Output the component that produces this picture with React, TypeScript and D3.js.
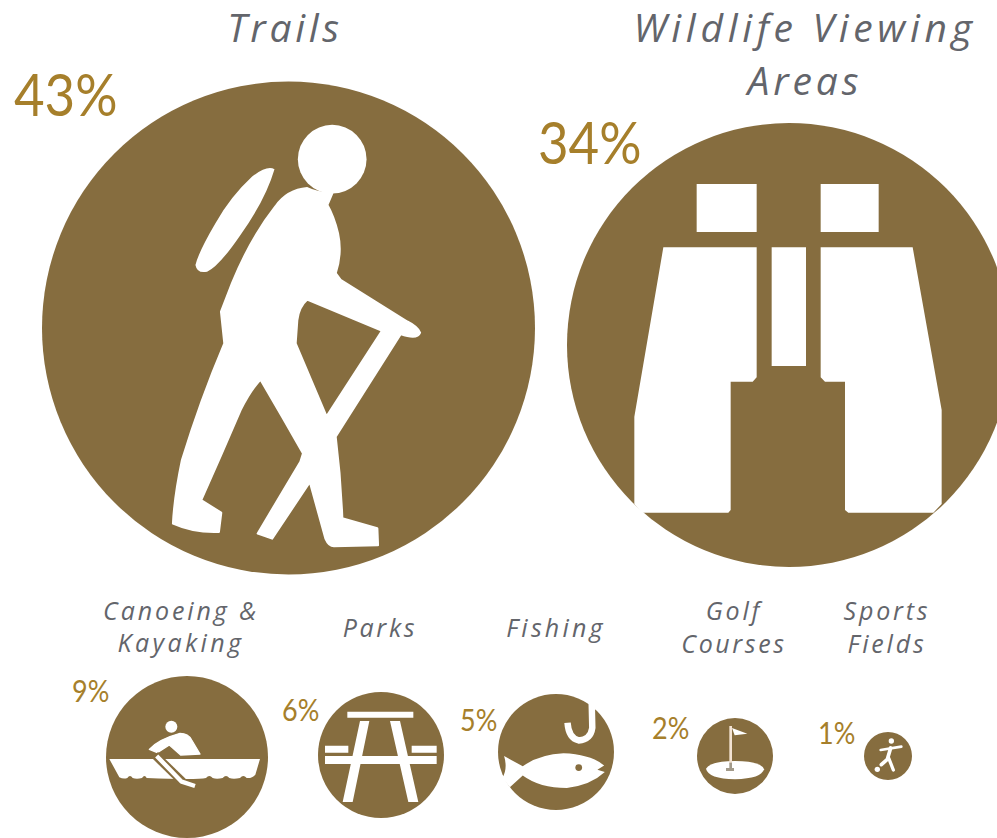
import React from "react";
import * as d3 from "d3";

// ---- data
const activities = ["Trails", "Wildlife Viewing Areas", "Canoeing & Kayaking", "Parks", "Fishing", "Golf Courses", "Sports Fields"];
const shares = [43, 34, 9, 6, 5, 2, 1];
const labelLines = [["Trails"], ["Wildlife Viewing", "Areas"], ["Canoeing &", "Kayaking"], ["Parks"], ["Fishing"], ["Golf", "Courses"], ["Sports", "Fields"]];

// ---- layout
const WIDTH = 997;
const HEIGHT = 838;
const BUBBLE = "#866D3F";
const GOLD = "#A67F2B";
const GREY = "#63656B";
const radiusDomain = [1, 2, 5, 6, 9, 34, 43];
const radiusRange = [24, 38, 58, 63, 81, 222, 246.5];
const radius = d3.scaleLinear().domain(radiusDomain).range(radiusRange);
const centreX = [288.5, 789, 187, 381, 556, 735, 888];
const centreY = [328, 345, 757, 755, 752, 756, 756];
const labelX = [285, 805, 181, 380, 556, 734, 887];
const labelBase = [[42], [42, 95], [620, 652], [637], [637], [620, 653], [620, 653]];
const labelSize = [39, 39, 25, 25, 25, 25, 25];
const labelSpacing = [[3.7], [4.7, 3.9], [2.9, 3.4], [2.7], [3.2], [2.8, 2.6], [2.8, 2.8]];
const pctLeft = [14, 538, 72, 282, 460, 652, 818];
const pctBase = [116, 164, 702, 721, 731, 739, 744];
const pctSize = [58, 58, 30, 30, 30, 30, 30];
const pctStretch = [0.91, 0.91, 0.9, 0.9, 0.9, 0.9, 0.9];

// ---- pictograms, each drawn in its own design space
type Glyph = { cx: number; cy: number; r: number; body: React.ReactNode };

const hiker: Glyph = {
  cx: 414, cy: 654, r: 739,
  body: (
    <g fill="#fff">
      <circle cx={545} cy={148} r={103} />
      <path d="M372 178 Q350 165 305 200 Q240 260 195 340 Q145 425 135 465 Q140 492 170 485 Q205 470 270 375 Q345 270 372 178Z" />
      <path stroke="#fff" strokeWidth={7} strokeLinejoin="round" fillRule="evenodd" d="M470 235 Q410 240 375 290 Q300 385 245 520 L212 605 L222 700 Q150 870 95 1050 Q72 1160 68 1240 Q130 1268 205 1265 L212 1208 L152 1170 Q210 1040 270 900 Q300 840 330 808 L395 920 L458 1030 L450 1055 L322 1270 L365 1285 L478 1115 L525 1285 Q535 1308 550 1308 L682 1305 L680 1255 L575 1225 Q570 1100 555 980 L750 672 Q800 690 808 668 Q800 650 770 635 L570 510 L555 490 Q575 430 562 370 Q550 320 530 285 L545 250 Q500 250 470 235Z M470 568 Q445 590 440 630 L435 700 L528 920 L695 662Z" />
    </g>
  ),
};

const binoculars: Glyph = {
  cx: 567, cy: 525, r: 666,
  body: (
    <g fill="#fff">
      <path d="M290 42H470V186H290Z M662 42H836V186H662Z M515 232H618V588H515Z" />
      <path d="M190 232H470V622L458 635H392V1020L385 1028H125L103 1002V740Z" />
      <path d="M662 232H938L1025 720V1002L1000 1028H745L735 1020V635H675L662 622Z" />
    </g>
  ),
};

const rower: Glyph = {
  cx: 261, cy: 171, r: 243,
  body: (
    <g>
      <path fill="#fff" d="M28 177H480L466 224 Q455 236 440 234 Q430 222 420 234 Q400 238 388 234 Q378 222 368 234 Q350 238 338 234 Q328 222 318 234 Q290 240 140 234 Q134 222 126 234 Q110 238 98 234 Q90 222 82 234 Q70 238 58 232Z" />
      <circle cx={214} cy={80} r={18} fill="#fff" />
      <path fill="#fff" stroke="#fff" strokeWidth={4} strokeLinejoin="round" d="M148 148 Q175 118 240 100 Q265 100 275 120 L300 162 L242 165 L208 135 L172 158Z" />
      <path d="M165 165 L250 248" stroke={BUBBLE} strokeWidth={26} fill="none" />
      <path d="M170 168 L245 245 L285 258" stroke="#fff" strokeWidth={13} fill="none" strokeLinejoin="round" />
    </g>
  ),
};

const table: Glyph = {
  cx: 1143, cy: 495, r: 189,
  body: (
    <path fill="#fff" d="M1042 365H1240V383H1042Z M1080 393H1108L1058 636H1028Z M1170 393H1200L1255 636H1225Z M975 467H1045V488H975Z M1235 467H1310V488H1235Z M975 498H1310V522H975Z" />
  ),
};

const fish: Glyph = {
  cx: 198, cy: 186, r: 171,
  body: (
    <g>
      <path d="M303 30 L305 115 Q300 150 265 152 Q235 145 232 100" fill="none" stroke="#fff" strokeWidth={19} />
      <path fill="#fff" d="M296 20H335V60L314 60Z" />
      <path fill="#fff" d="M100 228 L45 198 Q56 235 40 262 L62 290 L100 255 Q150 292 230 292 Q300 284 342 245 L320 238 L340 226 Q300 193 220 190 Q150 193 100 228Z" />
      <circle cx={265} cy={232} r={10} fill={BUBBLE} />
    </g>
  ),
};

const golf: Glyph = {
  cx: 135, cy: 132, r: 114,
  body: (
    <g>
      <path fill="#fff" d="M48 170 Q60 148 135 147 Q215 148 222 172 Q215 200 135 202 Q55 200 48 170Z" />
      <rect x={118} y={42} width={8} height={115} fill="#F3E3D3" />
      <rect x={118} y={152} width={8} height={18} fill="#A29A8A" />
      <rect x={108} y={168} width={24} height={9} fill="#A29A8A" />
      <path fill="#fff" d="M126 48 L172 65 L134 70Z" />
    </g>
  ),
};

const kicker: Glyph = {
  cx: 90, cy: 90, r: 72,
  body: (
    <g stroke="#fff" fill="none" strokeLinecap="round">
      <circle cx={100} cy={45} r={8} fill="#fff" stroke="none" />
      <path d="M68 72 L130 62" strokeWidth={8} />
      <path d="M98 66 L88 100 L70 116" strokeWidth={11} />
      <path d="M92 96 L106 132" strokeWidth={10} />
      <circle cx={58} cy={130} r={8} fill="#fff" stroke="none" />
    </g>
  ),
};

const glyphs = [hiker, binoculars, rower, table, fish, golf, kicker];

export default function App() {
  return (
    <svg
      width={WIDTH}
      height={HEIGHT}
      viewBox={`0 0 ${WIDTH} ${HEIGHT}`}
      style={{ position: "absolute", left: 0, top: 0, display: "block", background: "#fff" }}
    >
      {activities.map((name, i) => {
        const r = radius(shares[i]);
        const g = glyphs[i];
        return (
          <g key={name}>
            <circle cx={centreX[i]} cy={centreY[i]} r={r} fill={BUBBLE} />
            <g transform={`translate(${centreX[i]},${centreY[i]}) scale(${r / g.r}) translate(${-g.cx},${-g.cy})`}>
              {g.body}
            </g>
            {labelLines[i].map((line, j) => (
              <text
                key={line}
                x={labelX[i]}
                y={labelBase[i][j]}
                textAnchor="middle"
                fontFamily="'Open Sans', sans-serif"
                fontStyle="italic"
                fontSize={labelSize[i]}
                letterSpacing={labelSpacing[i][j]}
                fill={GREY}
              >
                {line}
              </text>
            ))}
            <text
              transform={`translate(${pctLeft[i]},${pctBase[i]}) scale(${pctStretch[i]},1)`}
              fontFamily="Lato, sans-serif"
              fontSize={pctSize[i]}
              fill={GOLD}
            >
              {shares[i]}%
            </text>
          </g>
        );
      })}
    </svg>
  );
}
